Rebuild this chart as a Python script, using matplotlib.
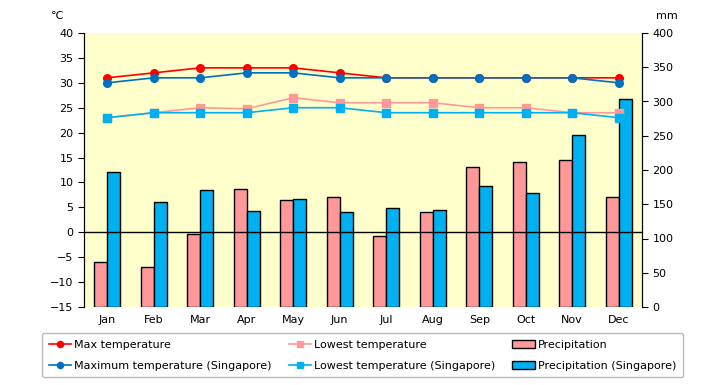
import matplotlib.pyplot as plt
import numpy as np

# data
months = ['Jan', 'Feb', 'Mar', 'Apr', 'May', 'Jun',
          'Jul', 'Aug', 'Sep', 'Oct', 'Nov', 'Dec']
max_temp = [31, 32, 33, 33, 33, 32, 31, 31, 31, 31, 31, 31]
max_temp_sg = [30, 31, 31, 32, 32, 31, 31, 31, 31, 31, 31, 30]
low_temp = [23, 24, 25, 24.8, 27, 26, 26, 26, 25, 25, 24, 24]
low_temp_sg = [23, 24, 24, 24, 25, 25, 24, 24, 24, 24, 24, 23]
precip = [66, 59, 107, 172, 156, 161, 104, 138, 205, 212, 215, 161]
precip_sg = [197, 154, 171, 140, 158, 139, 145, 142, 177, 167, 251, 304]

x = np.arange(len(months))

fig = plt.figure(figsize=(7.2, 3.85), dpi=100)
ax = fig.add_axes([84/720, 1 - 307/385, (642 - 84)/720, (307 - 33)/385])
ax.set_facecolor('#FFFFCC')

# bars on the precipitation axis (right side)
w = 0.28
b1 = ax.bar(x - w/2, precip, w, color='#FF9999', edgecolor='black', linewidth=1,
            label='Precipitation')
b2 = ax.bar(x + w/2, precip_sg, w, color='#00B0F0', edgecolor='black', linewidth=1,
            label='Precipitation (Singapore)')
ax.set_ylim(0, 400)
ax.set_yticks(range(0, 401, 50))
ax.set_xlim(-0.5, 11.5)
ax.set_xticks(x)
ax.set_xticklabels(months)

# temperature lines on the left axis
ax2 = ax.twinx()
ax.yaxis.tick_right()
ax.yaxis.set_label_position('right')
ax2.yaxis.tick_left()
ax2.yaxis.set_label_position('left')
ax.tick_params(axis='x', length=0, labelsize=8, pad=6)
ax.tick_params(axis='y', labelsize=8, length=4, direction='out')
ax2.set_ylim(-15, 40)
ax2.set_yticks(range(-15, 41, 5))
ax2.tick_params(axis='y', labelsize=8, length=4, direction='out')
ax2.axhline(0, color='black', linewidth=1)

l1, = ax2.plot(x, max_temp, color='#FF0000', marker='o', markersize=5.5,
               linewidth=1.2, label='Max temperature')
l3, = ax2.plot(x, low_temp, color='#FF9999', marker='s', markersize=6,
               linewidth=1.2, label='Lowest temperature')
l2, = ax2.plot(x, max_temp_sg, color='#0070C0', marker='o', markersize=5.5,
               linewidth=1.2, label='Maximum temperature (Singapore)')
l4, = ax2.plot(x, low_temp_sg, color='#00B0F0', marker='s', markersize=6,
               linewidth=1.2, label='Lowest temperature (Singapore)')

for a in (ax, ax2):
    a.spines['top'].set_visible(False)
    a.spines['bottom'].set_visible(False)

fig.text(57/720, 1 - 16/385, '℃', fontsize=8, ha='center', va='center')
fig.text(667/720, 1 - 16/385, 'mm', fontsize=8, ha='center', va='center')

leg = fig.legend([l1, l2, l3, l4, b1, b2],
                 [h.get_label() for h in [l1, l2, l3, l4, b1, b2]],
                 loc='upper left', ncol=3, mode='expand', fontsize=8,
                 bbox_to_anchor=(42/720, 1 - 383/385, (683 - 42)/720, 50/385),
                 fancybox=True, edgecolor='#AAAAAA', handlelength=2.0,
                 handletextpad=0.3, labelspacing=1.0, borderpad=0.6,
                 markerscale=0.8, borderaxespad=0)
leg.get_frame().set_linewidth(1)

fig.savefig('out.png', dpi=100)
